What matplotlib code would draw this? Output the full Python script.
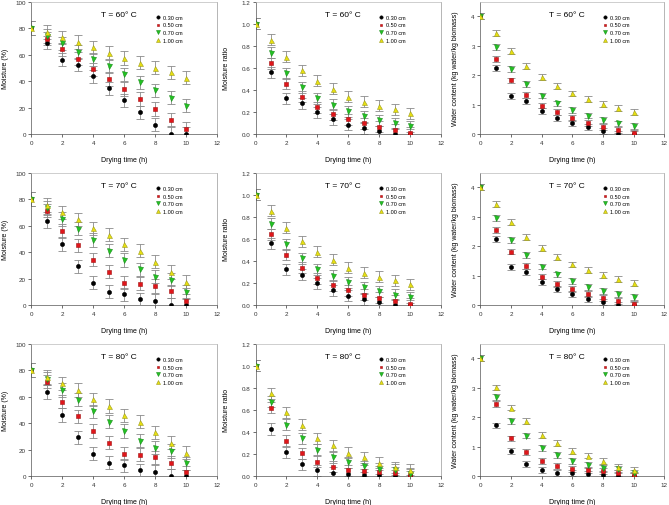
import matplotlib
matplotlib.use("Agg")
import matplotlib.pyplot as plt

plt.rcParams['font.family'] = ['Liberation Sans', 'DejaVu Sans']

# Drying time (h)
t = [0, 1, 2, 3, 4, 5, 6, 7, 8, 9, 10]

labels = ['0.30 cm', '0.50 cm', '0.70 cm', '1.00 cm']
temps = ['60', '70', '80']

# Moisture (%) -- rows: 0.30, 0.50, 0.70, 1.00 cm
moist_60 = [
    [80, 69, 56, 52.5, 43.5, 34.5, 25.5, 16.5, 7, 0.3, 0],
    [80, 72, 64, 57, 49, 41.5, 34, 26.5, 19, 11, 4],
    [80, 74, 68.5, 62, 56.5, 51, 45, 39, 33, 27.5, 21.5],
    [80, 77, 73, 69.5, 65.5, 61.5, 57.5, 54, 50, 46.5, 42.5],
]
moist_70 = [
    [80, 63.4, 46.2, 29.3, 16.9, 10.1, 8.1, 4.3, 3.3, 0.3, 0],
    [80, 71.2, 56, 45, 34.3, 25.3, 16.9, 16.2, 14.4, 10.4, 3.3],
    [80, 73.2, 65, 57.8, 49.2, 41.2, 34, 27, 21.5, 19.2, 10.1],
    [80, 75.5, 70, 64.6, 58, 53, 46, 41, 32.8, 25, 17.7],
]
moist_80 = [
    [80, 63.4, 46.2, 29.3, 16.9, 10.1, 8.1, 4.3, 3.3, 0.3, 0],
    [80, 71.2, 56.3, 45.2, 34, 25.2, 17, 16.2, 14.1, 10.1, 3],
    [80, 73.5, 65, 57.8, 49, 41, 34, 26.8, 21.5, 19, 9.8],
    [80, 74.7, 70, 65, 58, 53, 46, 41, 33, 25.2, 17.7],
]

# Moisture ratio
mr_60 = [
    [1.0, 0.558, 0.323, 0.277, 0.196, 0.133, 0.084, 0.051, 0.024, 0.003, 0.0],
    [1.0, 0.64, 0.455, 0.338, 0.244, 0.181, 0.136, 0.096, 0.066, 0.039, 0.012],
    [1.0, 0.736, 0.552, 0.425, 0.326, 0.265, 0.205, 0.16, 0.127, 0.096, 0.072],
    [1.0, 0.853, 0.70, 0.579, 0.485, 0.41, 0.34, 0.295, 0.256, 0.223, 0.187],
]
mr_70 = [
    [1.0, 0.558, 0.323, 0.277, 0.196, 0.133, 0.084, 0.051, 0.024, 0.003, 0.0],
    [1.0, 0.64, 0.455, 0.338, 0.244, 0.181, 0.136, 0.096, 0.066, 0.039, 0.012],
    [1.0, 0.736, 0.552, 0.425, 0.326, 0.265, 0.205, 0.16, 0.127, 0.096, 0.072],
    [1.0, 0.853, 0.70, 0.579, 0.485, 0.41, 0.34, 0.295, 0.256, 0.223, 0.187],
]
mr_80 = [
    [1.0, 0.427, 0.215, 0.106, 0.055, 0.03, 0.024, 0.012, 0.009, 0.003, 0.0],
    [1.0, 0.621, 0.321, 0.206, 0.13, 0.085, 0.055, 0.048, 0.042, 0.03, 0.012],
    [1.0, 0.673, 0.464, 0.345, 0.24, 0.173, 0.124, 0.088, 0.067, 0.058, 0.021],
    [1.0, 0.752, 0.579, 0.464, 0.345, 0.279, 0.212, 0.173, 0.121, 0.079, 0.058],
]

# Water content (kg water/kg biomass)
wc_60 = [
    [4.0, 2.23, 1.28, 1.12, 0.78, 0.56, 0.37, 0.23, 0.10, 0.02, 0.0],
    [4.0, 2.56, 1.82, 1.34, 0.97, 0.74, 0.54, 0.37, 0.25, 0.14, 0.05],
    [4.0, 2.95, 2.20, 1.70, 1.31, 1.04, 0.83, 0.63, 0.49, 0.36, 0.27],
    [4.0, 3.43, 2.81, 2.32, 1.94, 1.63, 1.38, 1.19, 1.03, 0.90, 0.76],
]
wc_70 = [
    [4.0, 2.24, 1.28, 1.12, 0.78, 0.55, 0.37, 0.22, 0.10, 0.02, 0.0],
    [4.0, 2.56, 1.82, 1.34, 0.97, 0.73, 0.54, 0.37, 0.25, 0.14, 0.05],
    [4.0, 2.95, 2.20, 1.70, 1.31, 1.04, 0.83, 0.63, 0.49, 0.37, 0.27],
    [4.0, 3.43, 2.81, 2.32, 1.94, 1.63, 1.38, 1.18, 1.03, 0.90, 0.76],
]
wc_80 = [
    [4.0, 1.72, 0.86, 0.42, 0.22, 0.12, 0.10, 0.06, 0.05, 0.01, 0.0],
    [4.0, 2.46, 1.28, 0.82, 0.52, 0.35, 0.23, 0.20, 0.17, 0.12, 0.05],
    [4.0, 2.70, 1.86, 1.38, 0.96, 0.71, 0.52, 0.37, 0.28, 0.24, 0.10],
    [4.0, 3.01, 2.33, 1.87, 1.40, 1.13, 0.86, 0.70, 0.50, 0.32, 0.22],
]

err_moist = 5
err_mr = 0.05
err_wc = 0.1

colors = ['black', '#e0161b', '#22c322', '#e8e010']
edges = ['black', '#a01010', '#1a8c1a', '#9a9a20']
markers = ['o', 's', 'v', '^']
msizes = [3.0, 2.6, 3.6, 3.6]

fig = plt.figure(figsize=(6.69, 5.06), dpi=100)

lefts = [0.047, 0.382, 0.718]
widths = [0.278, 0.277, 0.275]
bottoms = [0.733, 0.395, 0.057]
height = 0.262

panels = [
    [(moist_60, err_moist, 'Moisture (%)'), (mr_60, err_mr, 'Moisture ratio'), (wc_60, err_wc, 'Water content (kg water/kg biomass)')],
    [(moist_70, err_moist, 'Moisture (%)'), (mr_70, err_mr, 'Moisture ratio'), (wc_70, err_wc, 'Water content (kg water/kg biomass)')],
    [(moist_80, err_moist, 'Moisture (%)'), (mr_80, err_mr, 'Moisture ratio'), (wc_80, err_wc, 'Water content (kg water/kg biomass)')],
]
ylims = [(0, 100, [0, 20, 40, 60, 80, 100], '%d'),
         (0, 1.2, [0, 0.2, 0.4, 0.6, 0.8, 1.0, 1.2], '%.1f'),
         (0, 4.5, [0, 1, 2, 3, 4], '%d')]
ylab_x = [-0.12, -0.14, -0.115]

for r in range(3):
    for c in range(3):
        data, err, ylabel = panels[r][c]
        ax = fig.add_axes([lefts[c], bottoms[r], widths[c], height])
        for i in range(4):
            ax.errorbar(t, data[i], yerr=err, fmt='none', ecolor='#8a8a8a',
                        elinewidth=0.6, capsize=2.6, capthick=0.6, zorder=2)
        for i in range(4):
            ax.plot(t, data[i], linestyle='none', marker=markers[i], color=colors[i],
                    markeredgecolor=edges[i], markeredgewidth=0.4,
                    markersize=msizes[i], label=labels[i], zorder=3)
        lo, hi, ticks, fmt = ylims[c]
        ax.set_xlim(0, 12)
        ax.set_ylim(lo, hi)
        ax.set_xticks([0, 2, 4, 6, 8, 10, 12])
        ax.set_yticks(ticks)
        ax.set_yticklabels([fmt % v for v in ticks])
        ax.tick_params(direction='out', length=2, width=0.5, labelsize=4.5, pad=2,
                       colors='#333333')
        for s in ax.spines.values():
            s.set_linewidth(0.5)
            s.set_color('#555555')
        ax.spines['right'].set_color('#999999')
        ax.spines['top'].set_color('#bbbbbb')
        ax.set_xlabel('Drying time (h)', fontsize=5)
        ax.xaxis.set_label_coords(0.5, -0.165)
        ax.set_ylabel(ylabel, fontsize=5)
        ax.yaxis.set_label_coords(ylab_x[c], 0.5)
        ax.text(0.47, 0.9, 'T = %s° C' % temps[r], transform=ax.transAxes,
                ha='center', va='center', fontsize=6)
        ax.legend(loc='upper left', bbox_to_anchor=(0.64, 0.93), frameon=False,
                  fontsize=4, labelspacing=0.5, handletextpad=0.3,
                  handlelength=1.2, borderpad=0.2, markerscale=0.8)

fig.savefig('out.png', dpi=100)
